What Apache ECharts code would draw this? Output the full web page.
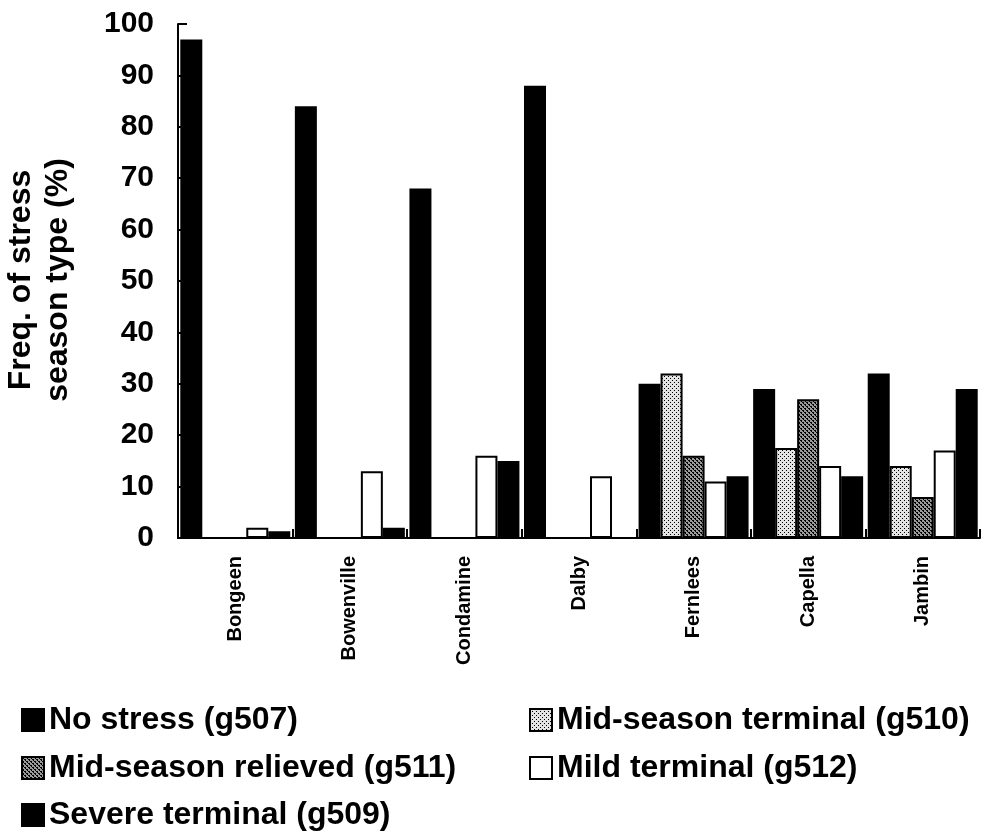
<!DOCTYPE html>
<html>
<head>
<meta charset="utf-8">
<title>Stress season types</title>
<script src="https://cdn.jsdelivr.net/npm/echarts@6/dist/echarts.min.js"></script>
<style>
  html, body { margin: 0; padding: 0; background: #fff; }
  #chart { width: 982px; height: 832px; }
</style>
</head>
<body>
<div id="chart"></div>
<script>
// 站点
var sites = ['Bongeen', 'Bowenville', 'Condamine', 'Dalby', 'Fernlees', 'Capella', 'Jambin'];
var yTicks = [0, 10, 20, 30, 40, 50, 60, 70, 80, 90, 100];

// 各类型频率 (%)
var noStress     = [97, 84, 68, 88, 30, 29, 32];
var midTerminal  = [0, 0, 0, 0, 32, 17.5, 14];
var midRelieved  = [0, 0, 0, 0, 16, 27, 8];
var mildTerminal = [2, 13, 16, 12, 11, 14, 17];
var severeTerm   = [1.3, 2, 15, 0, 12, 12, 29];

var FONT = '"Liberation Sans", Arial, sans-serif';

// 花纹填充
function makePattern(bg, dots) {
  var c = document.createElement('canvas');
  c.width = 4; c.height = 4;
  var ctx = c.getContext('2d');
  ctx.fillStyle = bg;
  ctx.fillRect(0, 0, 4, 4);
  ctx.fillStyle = '#000';
  dots.forEach(function (d) { ctx.fillRect(d[0], d[1], 1, 1); });
  return { image: c, repeat: 'repeat' };
}
var lightPattern = makePattern('#e4e4e4', [[0, 0], [2, 2]]);
var darkPattern = makePattern('#9a9a9a', [[0, 0], [1, 0], [2, 2], [3, 2], [1, 1], [3, 3]]);

function bar(name, data, color) {
  return {
    name: name,
    type: 'bar',
    data: data,
    barGap: 0,
    barCategoryGap: '4%',
    itemStyle: { color: color, borderColor: '#000', borderWidth: 2 }
  };
}

// 图例：每项单独放
function legendItem(name, left, top) {
  return {
    data: [name],
    left: left, top: top,
    icon: 'rect', itemWidth: 22, itemHeight: 22,
    selectedMode: false,
    textStyle: { fontSize: 32, fontWeight: 'bold', color: '#000', fontFamily: FONT, lineHeight: 34 }
  };
}

var chart = echarts.init(document.getElementById('chart'));

var option = {
  animation: false,
  backgroundColor: '#fff',
  textStyle: { fontFamily: FONT },
  grid: { left: 178, right: 2, top: 24, bottom: 294, containLabel: false },
  legend: [
    legendItem('No stress (g507)', 16, 698),
    legendItem('Mid-season terminal (g510)', 524, 698),
    legendItem('Mid-season relieved (g511)', 16, 746),
    legendItem('Mild terminal (g512)', 524, 746),
    legendItem('Severe terminal (g509)', 16, 793)
  ],
  xAxis: {
    type: 'category',
    data: sites,
    axisLine: { lineStyle: { color: '#000', width: 2 } },
    axisTick: { show: true, inside: true, length: 9, lineStyle: { color: '#000', width: 2 } },
    axisLabel: { rotate: 90, margin: 18, fontSize: 20, fontWeight: 'bold', color: '#000', fontFamily: FONT }
  },
  yAxis: {
    type: 'value',
    min: yTicks[0],
    max: yTicks[yTicks.length - 1],
    interval: 10,
    axisLine: { show: true, lineStyle: { color: '#000', width: 2 } },
    axisTick: { show: true, inside: true, length: 9, lineStyle: { color: '#000', width: 2 } },
    axisLabel: { margin: 24, fontSize: 30, fontWeight: 'bold', color: '#000', fontFamily: FONT },
    splitLine: { show: false }
  },
  graphic: [
    {
      type: 'text',
      x: 40, y: 280,
      rotation: Math.PI / 2,
      style: {
        text: 'Freq. of stress\nseason type (%)',
        x: 0, y: 0,
        align: 'center', verticalAlign: 'middle',
        fontSize: 32, fontWeight: 'bold', lineHeight: 37,
        fontFamily: FONT, fill: '#000'
      }
    }
  ],
  series: [
    bar('No stress (g507)', noStress, '#000'),
    bar('Mid-season terminal (g510)', midTerminal, lightPattern),
    bar('Mid-season relieved (g511)', midRelieved, darkPattern),
    bar('Mild terminal (g512)', mildTerminal, '#fff'),
    bar('Severe terminal (g509)', severeTerm, '#000')
  ]
};

chart.setOption(option);
</script>
</body>
</html>
